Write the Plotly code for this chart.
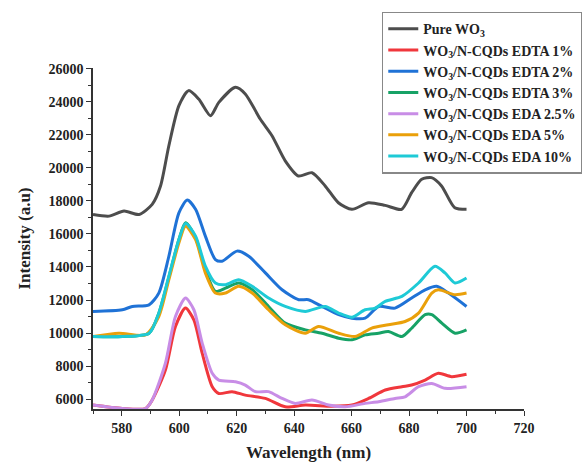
import plotly.graph_objects as go

# Pure WO3
w_pure = [570, 575.6, 580.8, 586, 590.6, 593.5, 596.4, 599.9, 603.3, 606.8, 610.9, 613.8, 619.6, 623,
          628.2, 632.3, 636.9, 641.5, 646.2, 650.8, 655.4, 660.1, 665.9, 671.7, 677.4, 680.9, 684.4,
          687.8, 691.3, 695.9, 700]
i_pure = [17180, 17080, 17390, 17180, 17790, 18900, 21340, 23770, 24680, 24170, 23160, 23970, 24880, 24480,
          22960, 21950, 20430, 19510, 19710, 18910, 17890, 17490, 17890, 17730, 17490, 18500, 19310,
          19410, 18910, 17590, 17490]

# EDTA 1%
w_edta1 = [570, 580.2, 588.3, 590.6, 595.2, 598.7, 602.2, 605.1, 608, 611.5, 613.8, 618.4, 623, 630,
           636.9, 643.9, 653.1, 660.1, 665.9, 671.7, 677.5, 680.9, 685.6, 690.2, 694.8, 700]
i_edta1 = [5640, 5430, 5430, 5940, 7760, 10400, 11510, 10800, 8780, 6750, 6340, 6450, 6240, 6040,
           5530, 5640, 5570, 5640, 6040, 6550, 6750, 6850, 7150, 7560, 7360, 7500]

# EDTA 2%
w_edta2 = [570, 580.2, 583.7, 589.5, 592.9, 596.4, 599.9, 602.8, 605.7, 609.1, 612.6, 614.9, 620.1, 624.2,
           630, 635.8, 641.6, 645, 649.7, 655.5, 660.1, 664.7, 669.4, 675.1, 680.9, 685.6, 689.6, 693.7, 700]
i_edta2 = [11310, 11410, 11610, 11710, 12420, 14650, 17280, 18050, 17490, 15870, 14450, 14350, 14960, 14650,
           13640, 12620, 12020, 12020, 11610, 11110, 10900, 10900, 11610, 11510, 12120, 12620, 12830, 12420, 11610]

# EDTA 3%
w_edta3 = [570, 580.2, 589.5, 592.9, 599.9, 602.2, 605.7, 609.1, 612.6, 616.1, 620.7, 625.4, 631.1, 636.9,
           643.9, 649.7, 655.5, 660.1, 664.7, 669.4, 672.8, 677.5, 680.9, 685.6, 687.9, 691.4, 696, 700]
i_edta3 = [9790, 9790, 9990, 11200, 15660, 16680, 15760, 13840, 12520, 12720, 13030, 12630, 11610, 10600,
           10190, 9990, 9690, 9590, 9890, 9990, 10090, 9790, 10290, 11110, 11110, 10600, 9990, 10190]

# EDA 2.5%
w_eda25 = [570, 580.2, 588.3, 590.6, 595.2, 598.7, 602.2, 605.1, 608, 611.5, 613.8, 619.6, 623, 626.5,
           631.1, 635.8, 640.4, 646.2, 652, 657.8, 664.7, 669.4, 675.1, 678.6, 683.3, 687.9, 692.5, 700]
i_eda25 = [5640, 5430, 5430, 5940, 8170, 11000, 12120, 11410, 9390, 7560, 7150, 7050, 6850, 6450,
           6450, 6040, 5740, 5940, 5640, 5530, 5740, 5840, 6040, 6140, 6750, 6950, 6650, 6750]

# EDA 5%
w_eda5 = [570, 579, 588.3, 592.9, 596.4, 599.9, 602.2, 605.7, 609.1, 612.6, 616.1, 620.7, 625.4, 631.1,
          636.9, 643.9, 648.5, 655.5, 661.2, 667, 672.8, 678.6, 683.3, 687.9, 690.2, 696, 700]
i_eda5 = [9790, 9990, 9890, 11000, 13230, 15460, 16470, 15660, 13640, 12420, 12420, 12830, 12420, 11410,
          10500, 9990, 10400, 9990, 9790, 10300, 10500, 10700, 11210, 12420, 12620, 12320, 12420]

# EDA 10%
w_eda10 = [570, 580.2, 589.5, 592.9, 596.4, 599.9, 602.2, 605.7, 609.1, 612.6, 616.1, 620.7, 625.4, 631.1,
           636.9, 643.9, 650.8, 655.5, 660.1, 664.7, 668.2, 671.7, 677.5, 683.3, 689, 692.5, 696, 700]
i_eda10 = [9790, 9790, 9990, 11200, 13440, 15660, 16640, 15870, 14050, 13030, 12930, 13230, 12830, 12120,
           11610, 11310, 11610, 11210, 10960, 11410, 11510, 11920, 12220, 13030, 14040, 13640, 13030, 13330]

x_ticks = [580, 600, 620, 640, 660, 680, 700, 720]
y_ticks = [6000, 8000, 10000, 12000, 14000, 16000, 18000, 20000, 22000, 24000, 26000]

names = ["Pure WO<sub>3</sub>",
         "WO<sub>3</sub>/N-CQDs EDTA 1%",
         "WO<sub>3</sub>/N-CQDs EDTA 2%",
         "WO<sub>3</sub>/N-CQDs EDTA 3%",
         "WO<sub>3</sub>/N-CQDs EDA 2.5%",
         "WO<sub>3</sub>/N-CQDs EDA 5%",
         "WO<sub>3</sub>/N-CQDs EDA 10%"]
colors = ["#4d4d4d", "#f0373c", "#1f72d6", "#17a266", "#c88de6", "#eaa00a", "#1ecad6"]
xs = [w_pure, w_edta1, w_edta2, w_edta3, w_eda25, w_eda5, w_eda10]
ys = [i_pure, i_edta1, i_edta2, i_edta3, i_eda25, i_eda5, i_eda10]

fig = go.Figure()
for x, y, n, c in zip(xs, ys, names, colors):
    fig.add_trace(go.Scatter(x=x, y=y, name=n, mode="lines",
                             line=dict(color=c, width=3, shape="spline", smoothing=0.7)))

font_family = "Liberation Serif"
axis_common = dict(showline=True, linecolor="#333333", linewidth=1.5, ticks="outside",
                   ticklen=5, tickwidth=1.2, tickcolor="#333333", showgrid=False, zeroline=False,
                   tickfont=dict(family=font_family, size=14, color="#222222", weight="bold"),
                   mirror=False)

fig.update_layout(
    width=582, height=469,
    margin=dict(l=93, r=58, t=68, b=60, autoexpand=False),
    paper_bgcolor="white", plot_bgcolor="white",
    font=dict(family=font_family, color="#222222"),
    xaxis=dict(range=[570, 720], tickvals=x_ticks, tickformat="d",
               minor=dict(ticks="outside", ticklen=3, dtick=10, tick0=570, tickcolor="#333333"),
               title=dict(text="Wavelength (nm)", standoff=12,
                          font=dict(family=font_family, size=17, weight="bold")),
               **axis_common),
    yaxis=dict(range=[5400, 26050], tickvals=y_ticks, tickformat="d",
               minor=dict(ticks="outside", ticklen=3, dtick=1000, tick0=5000, tickcolor="#333333"),
               title=dict(text="Intensity (a.u)", standoff=14,
                          font=dict(family=font_family, size=17, weight="bold")),
               **axis_common),
    legend=dict(x=0.67, y=1.165, xanchor="left", yanchor="top",
                bordercolor="#888888", borderwidth=1.5, bgcolor="white",
                font=dict(family=font_family, size=14, color="#222222", weight="bold"),
                tracegroupgap=0, itemwidth=30),
    showlegend=True,
)

fig.write_html("out.html")
